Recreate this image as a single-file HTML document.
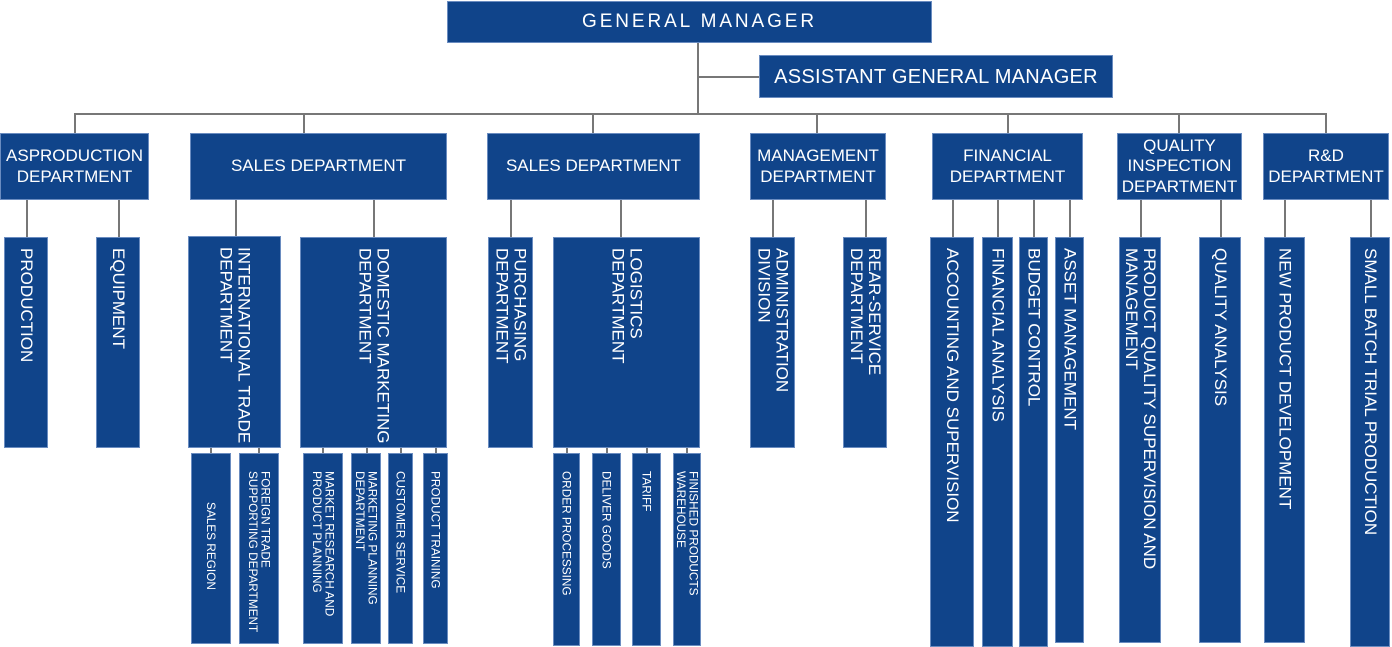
<!DOCTYPE html>
<html><head><meta charset="utf-8"><style>
body{margin:0;width:1392px;height:645px;position:relative;background:#fff;overflow:hidden;font-family:"Liberation Sans",Arial,sans-serif}
.b{position:absolute;background:#10448a;border:1px solid #6a8cc0;box-sizing:border-box;color:#fff;display:flex;align-items:center;justify-content:center;text-align:center;line-height:1.2}
.h{font-size:17px}
.v{writing-mode:vertical-rl;font-size:17px;line-height:1.05;align-items:center;justify-content:flex-start;padding-top:10px;text-align:left}
.s{writing-mode:vertical-rl;font-size:11.8px;line-height:1.05;align-items:center;justify-content:flex-start;padding-top:17px;text-align:left}
.l{position:absolute;background:#777}
</style></head><body>
<div class="l" style="left:697px;top:43px;width:1.5px;height:71px"></div>
<div class="l" style="left:697px;top:76px;width:62px;height:1.5px"></div>
<div class="l" style="left:74px;top:113px;width:1252px;height:1.5px"></div>
<div class="l" style="left:74px;top:113px;width:1.5px;height:20px"></div>
<div class="l" style="left:303px;top:113px;width:1.5px;height:20px"></div>
<div class="l" style="left:592px;top:113px;width:1.5px;height:20px"></div>
<div class="l" style="left:816px;top:113px;width:1.5px;height:20px"></div>
<div class="l" style="left:1007px;top:113px;width:1.5px;height:20px"></div>
<div class="l" style="left:1178px;top:113px;width:1.5px;height:20px"></div>
<div class="l" style="left:1325px;top:113px;width:1.5px;height:20px"></div>
<div class="l" style="left:26px;top:199px;width:1.5px;height:38px"></div>
<div class="l" style="left:118px;top:199px;width:1.5px;height:38px"></div>
<div class="l" style="left:235px;top:199px;width:1.5px;height:38px"></div>
<div class="l" style="left:373px;top:199px;width:1.5px;height:38px"></div>
<div class="l" style="left:510px;top:199px;width:1.5px;height:38px"></div>
<div class="l" style="left:620px;top:199px;width:1.5px;height:38px"></div>
<div class="l" style="left:772px;top:199px;width:1.5px;height:38px"></div>
<div class="l" style="left:865px;top:199px;width:1.5px;height:38px"></div>
<div class="l" style="left:952px;top:199px;width:1.5px;height:38px"></div>
<div class="l" style="left:997px;top:199px;width:1.5px;height:38px"></div>
<div class="l" style="left:1033px;top:199px;width:1.5px;height:38px"></div>
<div class="l" style="left:1069px;top:199px;width:1.5px;height:38px"></div>
<div class="l" style="left:1140px;top:199px;width:1.5px;height:38px"></div>
<div class="l" style="left:1220px;top:199px;width:1.5px;height:38px"></div>
<div class="l" style="left:1284px;top:199px;width:1.5px;height:38px"></div>
<div class="l" style="left:1370px;top:199px;width:1.5px;height:38px"></div>
<div class="l" style="left:210px;top:447px;width:1.5px;height:7px"></div>
<div class="l" style="left:258px;top:447px;width:1.5px;height:7px"></div>
<div class="l" style="left:322px;top:447px;width:1.5px;height:7px"></div>
<div class="l" style="left:366px;top:447px;width:1.5px;height:7px"></div>
<div class="l" style="left:400px;top:447px;width:1.5px;height:7px"></div>
<div class="l" style="left:435px;top:447px;width:1.5px;height:7px"></div>
<div class="l" style="left:566px;top:447px;width:1.5px;height:7px"></div>
<div class="l" style="left:606px;top:447px;width:1.5px;height:7px"></div>
<div class="l" style="left:646px;top:447px;width:1.5px;height:7px"></div>
<div class="l" style="left:686px;top:447px;width:1.5px;height:7px"></div>

<div class="b" style="left:447px;top:1px;width:485px;height:42px;font-size:19px;letter-spacing:2.9px;padding-left:20px">GENERAL MANAGER</div>
<div class="b" style="left:759px;top:55px;width:354px;height:43px;font-size:20px;letter-spacing:0.3px">ASSISTANT GENERAL MANAGER</div>

<div class="b h" style="left:0;top:133px;width:149px;height:67px">ASPRODUCTION<br>DEPARTMENT</div>
<div class="b h" style="left:190px;top:133px;width:257px;height:67px">SALES DEPARTMENT</div>
<div class="b h" style="left:487px;top:133px;width:213px;height:67px">SALES DEPARTMENT</div>
<div class="b h" style="left:750px;top:133px;width:136px;height:67px">MANAGEMENT<br>DEPARTMENT</div>
<div class="b h" style="left:932px;top:133px;width:151px;height:67px">FINANCIAL<br>DEPARTMENT</div>
<div class="b h" style="left:1117px;top:133px;width:125px;height:67px;line-height:1.2">QUALITY<br>INSPECTION<br>DEPARTMENT</div>
<div class="b h" style="left:1263px;top:133px;width:126px;height:67px">R&amp;D<br>DEPARTMENT</div>

<div class="b v" style="left:4px;top:237px;width:44px;height:211px">PRODUCTION</div>
<div class="b v" style="left:96px;top:237px;width:44px;height:211px">EQUIPMENT</div>
<div class="b v" style="left:188px;top:236px;width:93px;height:212px">INTERNATIONAL TRADE<br>DEPARTMENT</div>
<div class="b v" style="left:300px;top:237px;width:147px;height:211px">DOMESTIC MARKETING<br>DEPARTMENT</div>
<div class="b v" style="left:488px;top:237px;width:45px;height:211px">PURCHASING<br>DEPARTMENT</div>
<div class="b v" style="left:553px;top:237px;width:147px;height:211px">LOGISTICS<br>DEPARTMENT</div>
<div class="b v" style="left:750px;top:237px;width:45px;height:211px">ADMINISTRATION<br>DIVISION</div>
<div class="b v" style="left:843px;top:237px;width:44px;height:211px">REAR-SERVICE<br>DEPARTMENT</div>
<div class="b v" style="left:930px;top:237px;width:44px;height:410px">ACCOUNTING AND SUPERVISION</div>
<div class="b v" style="left:982px;top:237px;width:31px;height:410px">FINANCIAL ANALYSIS</div>
<div class="b v" style="left:1019px;top:237px;width:29px;height:410px">BUDGET CONTROL</div>
<div class="b v" style="left:1055px;top:237px;width:29px;height:406px">ASSET MANAGEMENT</div>
<div class="b v" style="left:1119px;top:237px;width:42px;height:406px">PRODUCT QUALITY SUPERVISION AND<br>MANAGEMENT</div>
<div class="b v" style="left:1199px;top:237px;width:42px;height:406px">QUALITY ANALYSIS</div>
<div class="b v" style="left:1264px;top:237px;width:41px;height:406px">NEW PRODUCT DEVELOPMENT</div>
<div class="b v" style="left:1350px;top:237px;width:40px;height:410px">SMALL BATCH TRIAL PRODUCTION</div>

<div class="b s" style="left:191px;top:453px;width:40px;height:191px;padding-top:48px">SALES REGION</div>
<div class="b s" style="left:239px;top:453px;width:40px;height:191px">FOREIGN TRADE<br>SUPPORTING DEPARTMENT</div>
<div class="b s" style="left:303px;top:453px;width:40px;height:191px">MARKET RESEARCH AND<br>PRODUCT PLANNING</div>
<div class="b s" style="left:351px;top:453px;width:30px;height:191px">MARKETING PLANNING<br>DEPARTMENT</div>
<div class="b s" style="left:388px;top:453px;width:25px;height:191px">CUSTOMER SERVICE</div>
<div class="b s" style="left:423px;top:453px;width:25px;height:191px">PRODUCT TRAINING</div>
<div class="b s" style="left:553px;top:453px;width:27px;height:193px">ORDER PROCESSING</div>
<div class="b s" style="left:592px;top:453px;width:29px;height:193px">DELIVER GOODS</div>
<div class="b s" style="left:632px;top:453px;width:29px;height:193px">TARIFF</div>
<div class="b s" style="left:673px;top:453px;width:28px;height:193px">FINISHED PRODUCTS<br>WAREHOUSE</div>
</body></html>
